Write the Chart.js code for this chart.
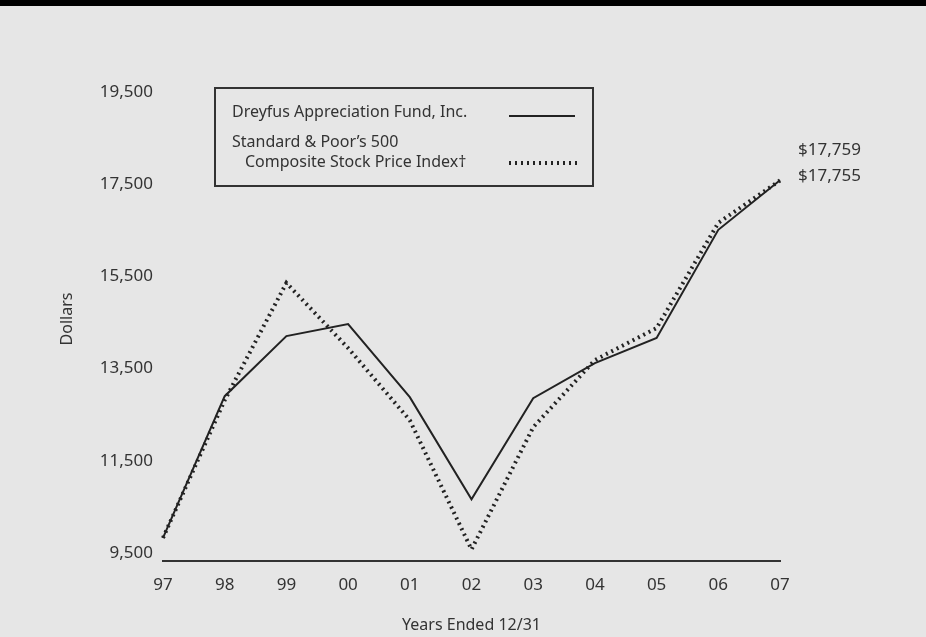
<!DOCTYPE html>
<html>
<head>
<meta charset="utf-8">
<script src="https://cdn.jsdelivr.net/npm/chart.js@4.4.0/dist/chart.umd.min.js"></script>
<style>
  html, body { margin: 0; padding: 0; background: #e6e6e6; }
  #wrap { position: relative; width: 926px; height: 637px; background: #e6e6e6; }
  #topbar { position: absolute; left: 0; top: 0; width: 926px; height: 6px; background: #000; }
  canvas { position: absolute; left: 0; top: 0; }
</style>
</head>
<body>
<div id="wrap">
  <canvas id="grafico" width="926" height="637"></canvas>
  <div id="topbar"></div>
</div>
<script>
// dados
const anos = ['97', '98', '99', '00', '01', '02', '03', '04', '05', '06', '07'];
const fundo = [10000, 13076, 14380, 14641, 13054, 10837, 13033, 13793, 14337, 16685, 17759];
const sp500 = [10000, 12989, 15533, 14120, 12554, 9750, 12402, 13859, 14554, 16837, 17755];
const ticksY = [9500, 11500, 13500, 15500, 17500, 19500];
const nomes = [['Dreyfus Appreciation Fund, Inc.'], ['Standard & Poor\u2019s 500', '  Composite Stock Price Index\u2020']];
const valoresFinais = ['$17,759', '$17,755'];

const FONTE = '"Noto Sans", sans-serif';
const COR_TEXTO = '#333';

const legendaBox = {
    id: 'legendaBox',
    afterDraw(chart) {
        const ctx = chart.ctx;
        ctx.save();
        ctx.strokeStyle = '#333';
        ctx.lineWidth = 2;
        ctx.strokeRect(215, 88, 378, 98);
        ctx.font = '16px ' + FONTE;
        ctx.fillStyle = COR_TEXTO;
        ctx.textBaseline = 'middle';
        ctx.textAlign = 'left';
        ctx.fillText(nomes[0][0], 232, 112);
        ctx.fillText(nomes[1][0], 232, 142);
        ctx.fillText(nomes[1][1].trim(), 245, 162);

        const ds = chart.data.datasets;
        // amostra linha cheia
        ctx.beginPath();
        ctx.strokeStyle = ds[0].borderColor;
        ctx.lineWidth = ds[0].borderWidth;
        ctx.moveTo(509, 116);
        ctx.lineTo(575, 116);
        ctx.stroke();
        // amostra pontilhada
        ctx.beginPath();
        ctx.setLineDash(ds[1].borderDash);
        ctx.lineCap = 'butt';
        ctx.strokeStyle = ds[1].borderColor;
        ctx.lineWidth = ds[1].borderWidth;
        ctx.moveTo(509, 163);
        ctx.lineTo(577, 163);
        ctx.stroke();
        ctx.setLineDash([]);

        // valores finais ao lado do último ponto
        ctx.font = '17px ' + FONTE;
        const meta = chart.getDatasetMeta(0);
        const ult = meta.data[meta.data.length - 1];
        ctx.fillText(valoresFinais[0], ult.x + 18, ult.y - 30);
        ctx.fillText(valoresFinais[1], ult.x + 18, ult.y - 4);
        ctx.restore();
    }
};

new Chart(document.getElementById('grafico'), {
    type: 'line',
    data: {
        labels: anos,
        datasets: [
            { label: nomes[0].join(' '), data: fundo, borderColor: '#222', borderWidth: 2, pointRadius: 0, tension: 0 },
            { label: nomes[1].join(' '), data: sp500, borderColor: '#222', borderWidth: 4, borderDash: [2, 4], borderCapStyle: 'butt', pointRadius: 0, tension: 0 }
        ]
    },
    options: {
        responsive: false,
        animation: false,
        devicePixelRatio: 1,
        layout: { padding: { left: 0, right: 146, top: 77, bottom: 0 } },
        plugins: { legend: { display: false }, tooltip: { enabled: false } },
        scales: {
            x: {
                grid: { display: false, drawTicks: false },
                border: { display: true, color: '#333', width: 2 },
                ticks: { color: COR_TEXTO, font: { family: FONTE, size: 17 }, padding: 14, maxRotation: 0 },
                title: { display: true, text: 'Years Ended 12/31', color: COR_TEXTO, font: { family: FONTE, size: 16 }, padding: { top: 0, bottom: 2 } },
                afterFit(s) { s.height = 76; }
            },
            y: {
                min: 9500,
                max: 20000,
                grid: { display: false, drawTicks: false },
                border: { display: false },
                afterBuildTicks(s) { s.ticks = ticksY.map(v => ({ value: v })); },
                ticks: {
                    color: COR_TEXTO,
                    font: { family: FONTE, size: 17 },
                    padding: 10,
                    labelOffset: -8,
                    callback: v => v.toLocaleString('en-US')
                },
                title: { display: true, text: 'Dollars', color: COR_TEXTO, font: { family: FONTE, size: 16 }, padding: { top: 58, bottom: 0 } },
                afterFit(s) { s.width = 163; }
            }
        }
    },
    plugins: [legendaBox]
});
</script>
</body>
</html>
